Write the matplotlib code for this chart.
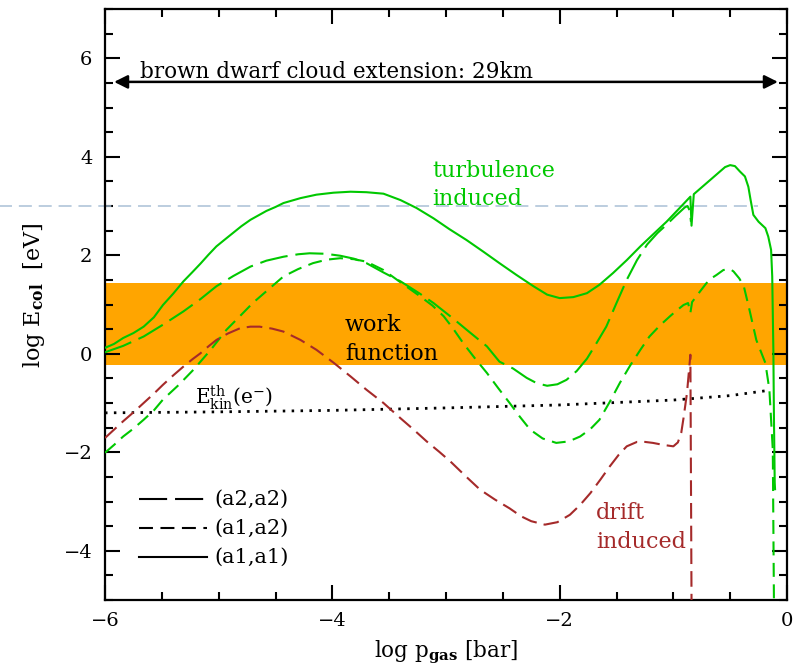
import matplotlib
matplotlib.use("Agg")
import matplotlib.pyplot as plt
from matplotlib.ticker import MultipleLocator

plt.rcParams["font.family"] = ["DejaVu Serif"]
plt.rcParams["mathtext.fontset"] = "dejavuserif"

GREEN = "#00c800"
BROWN = "#a52a2a"
ORANGE = "#ffa500"
REFBLUE = "#a9c0d6"

# (a1,a1): turbulence induced, solid
x_a1a1 = [-6.00, -5.92, -5.84, -5.75, -5.66, -5.57, -5.49, -5.40, -5.31, -5.23,
          -5.16, -5.09, -5.02, -4.94, -4.87, -4.80, -4.72, -4.65, -4.58, -4.50,
          -4.43, -4.28, -4.14, -3.99, -3.84, -3.70, -3.55, -3.40, -3.26, -3.11,
          -2.97, -2.82, -2.67, -2.53, -2.38, -2.23, -2.11, -2.00, -1.88, -1.76,
          -1.65, -1.53, -1.41, -1.29, -1.18, -1.06, -0.94, -0.85, -0.84, -0.82,
          -0.76, -0.71, -0.66, -0.62, -0.58, -0.545, -0.50, -0.458, -0.414, -0.37,
          -0.34, -0.32, -0.296, -0.25, -0.19, -0.165, -0.14, -0.13, -0.12, -0.115,
          -0.108, -0.105]
y_a1a1 = [0.12, 0.20, 0.32, 0.42, 0.55, 0.74, 0.99, 1.22, 1.47, 1.66,
          1.83, 2.01, 2.18, 2.33, 2.46, 2.59, 2.72, 2.81, 2.90, 2.98,
          3.06, 3.16, 3.23, 3.27, 3.29, 3.28, 3.25, 3.12, 2.96, 2.75,
          2.53, 2.31, 2.07, 1.84, 1.60, 1.37, 1.20, 1.13, 1.15, 1.23,
          1.40, 1.64, 1.90, 2.18, 2.42, 2.68, 2.97, 3.19, 2.60, 3.24,
          3.36, 3.46, 3.56, 3.64, 3.72, 3.79, 3.83, 3.81, 3.70, 3.60,
          3.39, 3.12, 2.82, 2.68, 2.55, 2.38, 2.11, 1.57, 0.08, -1.27,
          -2.62, -2.75]

# (a2,a2): turbulence induced, long dashes
x_a2a2 = [-6.00, -5.84, -5.66, -5.49, -5.31, -5.16, -5.02, -4.87, -4.72, -4.58,
          -4.43, -4.30, -4.20, -4.06, -3.93, -3.81, -3.70, -3.55, -3.40, -3.23,
          -3.11, -2.94, -2.82, -2.64, -2.53, -2.41, -2.29, -2.20, -2.11, -2.02,
          -1.94, -1.85, -1.76, -1.68, -1.59, -1.50, -1.41, -1.32, -1.23, -1.14,
          -1.06, -0.98, -0.90, -0.875, -0.855, -0.845]
y_a2a2 = [0.03, 0.16, 0.35, 0.59, 0.86, 1.11, 1.37, 1.58, 1.77, 1.89,
          1.97, 2.02, 2.04, 2.03, 1.99, 1.93, 1.84, 1.65, 1.47, 1.22,
          1.03, 0.72, 0.49, 0.15, -0.16, -0.30, -0.49, -0.60, -0.65, -0.62,
          -0.53, -0.35, -0.10, 0.20, 0.55, 1.03, 1.50, 1.90, 2.22, 2.45,
          2.62, 2.80, 2.97, 3.00, 2.90, 2.68]

# (a1,a2): turbulence induced, short dashes
x_a1a2 = [-6.00, -5.92, -5.84, -5.75, -5.66, -5.57, -5.49, -5.35, -5.22, -5.07,
          -4.93, -4.81, -4.70, -4.56, -4.43, -4.30, -4.17, -4.05, -3.93, -3.81,
          -3.70, -3.55, -3.40, -3.23, -3.12, -3.02, -2.94, -2.85, -2.75, -2.64,
          -2.54, -2.44, -2.35, -2.26, -2.15, -2.03, -1.92, -1.82, -1.73, -1.65,
          -1.56, -1.47, -1.38, -1.29, -1.21, -1.12, -1.03, -0.97, -0.91, -0.87,
          -0.85, -0.835, -0.77, -0.71, -0.66, -0.62, -0.56, -0.50, -0.47, -0.42,
          -0.38, -0.33, -0.27, -0.19, -0.155, -0.125, -0.115]
y_a1a2 = [-2.01, -1.85, -1.68, -1.52, -1.34, -1.15, -0.93, -0.63, -0.32, 0.08,
          0.49, 0.77, 1.03, 1.31, 1.57, 1.72, 1.84, 1.91, 1.94, 1.92,
          1.87, 1.70, 1.45, 1.17, 0.98, 0.76, 0.52, 0.22, -0.08, -0.39,
          -0.70, -1.00, -1.28, -1.54, -1.72, -1.81, -1.78, -1.68, -1.53, -1.34,
          -0.98, -0.59, -0.24, 0.08, 0.35, 0.57, 0.76, 0.88, 0.99, 1.03,
          0.83, 1.05, 1.25, 1.43, 1.54, 1.60, 1.70, 1.72, 1.67, 1.53,
          1.37, 0.89, 0.28, -0.19, -0.73, -1.95, -5.00]

# drift induced, dashed
x_drift = [-6.00, -5.92, -5.84, -5.75, -5.66, -5.57, -5.49, -5.40, -5.31, -5.23,
           -5.16, -5.09, -5.02, -4.92, -4.81, -4.72, -4.64, -4.53, -4.43, -4.28,
           -4.14, -3.99, -3.84, -3.70, -3.55, -3.40, -3.28, -3.17, -3.06, -2.96,
           -2.83, -2.70, -2.57, -2.44, -2.34, -2.25, -2.13, -2.02, -1.91, -1.82,
           -1.73, -1.64, -1.56, -1.48, -1.41, -1.32, -1.25, -1.18, -1.09, -1.00,
           -0.96, -0.93, -0.91, -0.88, -0.85, -0.84]
y_drift = [-1.71, -1.54, -1.37, -1.19, -1.00, -0.81, -0.63, -0.44, -0.26, -0.11,
           0.01, 0.15, 0.28, 0.41, 0.52, 0.55, 0.55, 0.51, 0.45, 0.28,
           0.08, -0.18, -0.46, -0.73, -1.00, -1.31, -1.55, -1.78, -1.99, -2.19,
           -2.48, -2.76, -2.96, -3.14, -3.30, -3.40, -3.47, -3.42, -3.27, -3.07,
           -2.83, -2.55, -2.29, -2.05, -1.88, -1.79, -1.79, -1.81, -1.85, -1.88,
           -1.80, -1.60, -1.30, -0.80, -0.02, -5.00]

# thermal kinetic electron energy
x_ekin = [-6.0, -5.0, -4.0, -3.0, -2.0, -1.5, -1.0, -0.5, -0.15]
y_ekin = [-1.20, -1.18, -1.15, -1.10, -1.04, -0.99, -0.94, -0.85, -0.74]

work_function = (-0.22, 1.43)
ref_level = 3.0
cloud_span = (-5.92, -0.08)
cloud_label = "brown dwarf cloud extension: 29km"

fig = plt.figure(figsize=(8.01, 6.70), dpi=100)
ax = fig.add_axes([105 / 801, 1 - 600 / 670, 682 / 801, 591 / 670])
ax.set_xlim(-6, 0)
ax.set_ylim(-5, 7)

ax.axhspan(work_function[0], work_function[1], color=ORANGE, lw=0, zorder=1)
ax.plot([-6.93, -0.255], [ref_level, ref_level], color=REFBLUE, lw=1.1,
        ls=(0, (8.5, 4.5)), clip_on=False, zorder=2)

lw = 1.5
long_dash = (0, (13.5, 3.8))
short_dash = (0, (6.7, 3.6))
ax.plot(x_a1a1, y_a1a1, color=GREEN, lw=lw, zorder=4)
ax.plot(x_a2a2, y_a2a2, color=GREEN, lw=lw, ls=long_dash, zorder=4)
ax.plot(x_a1a2, y_a1a2, color=GREEN, lw=lw, ls=short_dash, zorder=4)
ax.plot(x_drift, y_drift, color=BROWN, lw=lw, ls=(0, (7.5, 3.4)), zorder=4)
ax.plot(x_ekin, y_ekin, color="black", lw=2.0, ls=(0, (0.9, 2.3)), zorder=3)

ax.annotate("", xy=(cloud_span[1], 5.52), xytext=(cloud_span[0], 5.52),
            arrowprops=dict(arrowstyle="<|-|>", color="black", lw=1.8,
                            mutation_scale=20, shrinkA=0, shrinkB=0))
ax.text(-5.69, 5.60, cloud_label, fontsize=15.5, ha="left", va="baseline")

fs = 16
ax.text(-3.12, 3.59, "turbulence", color=GREEN, fontsize=fs, va="baseline")
ax.text(-3.12, 3.02, "induced", color=GREEN, fontsize=fs, va="baseline")
ax.text(-3.89, 0.47, "work", color="black", fontsize=fs, va="baseline")
ax.text(-3.89, -0.12, "function", color="black", fontsize=fs, va="baseline")
ax.text(-1.68, -3.35, "drift", color=BROWN, fontsize=fs, va="baseline")
ax.text(-1.68, -3.94, "induced", color=BROWN, fontsize=fs, va="baseline")
ax.text(-5.21, -1.03, r"$\mathrm{E^{th}_{kin}(e^{-})}$", fontsize=14.5,
        va="baseline")

# legend drawn by hand in axes fraction
legend_rows = [("(a2,a2)", long_dash, 0.171),
               ("(a1,a2)", short_dash, 0.122),
               ("(a1,a1)", "-", 0.0728)]
for label, style, yy in legend_rows:
    ax.plot([0.050, 0.150], [yy, yy], transform=ax.transAxes, color="black",
            lw=lw, ls=style)
    ax.text(0.161, yy, label, transform=ax.transAxes, fontsize=15,
            va="center", ha="left")

ax.xaxis.set_major_locator(MultipleLocator(2))
ax.xaxis.set_minor_locator(MultipleLocator(0.5))
ax.yaxis.set_major_locator(MultipleLocator(2))
ax.yaxis.set_minor_locator(MultipleLocator(0.5))
ax.tick_params(which="both", direction="in", top=True, right=True, width=1.5,
               labelsize=14)
ax.tick_params(which="major", length=11, pad=9)
ax.tick_params(which="minor", length=5.5)
for s in ax.spines.values():
    s.set_linewidth(1.6)

ax.set_xlabel(r"log p$_{\mathbf{gas}}$ [bar]", fontsize=15.5)
ax.set_ylabel(r"log E$_{\mathbf{col}}$  [eV]", fontsize=16)
ax.xaxis.set_label_coords(0.5, -0.066)
ax.yaxis.set_label_coords(-0.085, 0.515)

fig.savefig("out.png", dpi=100)
